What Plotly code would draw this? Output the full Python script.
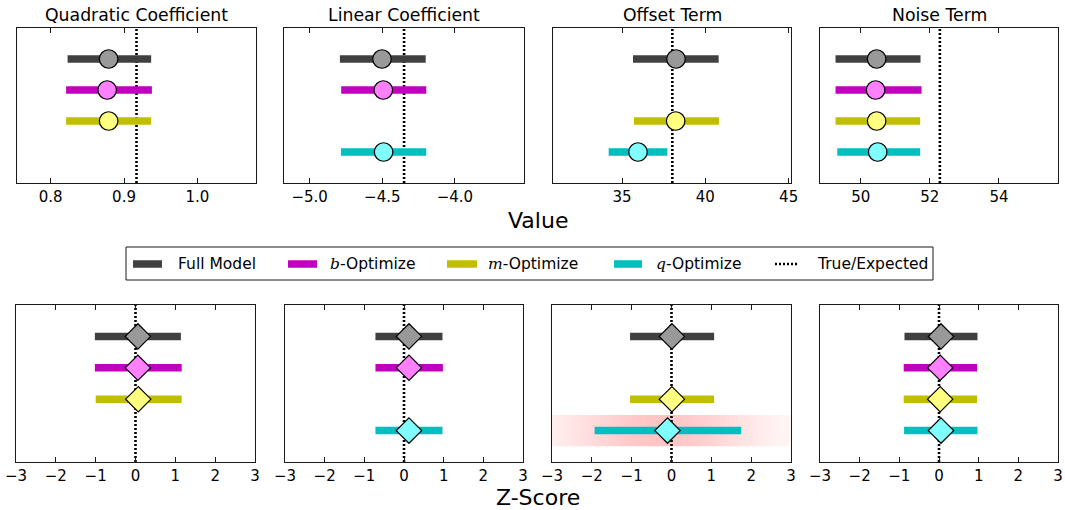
import plotly.graph_objects as go

# ---- data -------------------------------------------------------------
params = ["Quadratic Coefficient", "Linear Coefficient", "Offset Term", "Noise Term"]
models = ["Full Model", "b-Optimize", "m-Optimize", "q-Optimize"]
legend_labels = [
    "Full Model",
    "<span style=\"font-family:DejaVu Serif\"><i>b</i></span>-Optimize",
    "<span style=\"font-family:DejaVu Serif\"><i>m</i></span>-Optimize",
    "<span style=\"font-family:DejaVu Serif\"><i>q</i></span>-Optimize",
    "True/Expected",
]
true_values = [0.917, -4.35, 38.02, 52.29]

# fitted value and interval per model, one entry per parameter (None = not fitted)
full_val = [0.879, -4.502, 38.24, 50.46]
full_lo = [0.823, -4.792, 35.66, 49.27]
full_hi = [0.937, -4.201, 40.80, 51.73]

b_val = [0.877, -4.493, None, 50.43]
b_lo = [0.821, -4.783, None, 49.27]
b_hi = [0.938, -4.197, None, 51.76]

m_val = [0.879, None, 38.22, 50.46]
m_lo = [0.821, None, 35.72, 49.27]
m_hi = [0.937, None, 40.82, 51.72]

q_val = [None, -4.491, 35.96, 50.49]
q_lo = [None, -4.785, 34.20, 49.32]
q_hi = [None, -4.197, 37.72, 51.72]

# z-scores of the fits relative to the expected values
full_z = [0.06, 0.125, 0.01, 0.05]
full_zlo = [-1.02, -0.72, -1.04, -0.87]
full_zhi = [1.14, 0.97, 1.07, 0.97]

b_z = [0.06, 0.125, None, 0.03]
b_zlo = [-1.02, -0.72, None, -0.89]
b_zhi = [1.16, 0.98, None, 0.96]

m_z = [0.07, None, 0.01, 0.03]
m_zlo = [-1.00, None, -1.04, -0.89]
m_zhi = [1.16, None, 1.07, 0.96]

q_z = [None, 0.125, -0.10, 0.05]
q_zlo = [None, -0.72, -1.93, -0.88]
q_zhi = [None, 0.97, 1.75, 0.97]

value_ticks = [[0.8, 0.9, 1.0], [-5.0, -4.5, -4.0], [35, 40, 45], [50, 52, 54]]
value_tickformat = [".1f", ".1f", "d", "d"]
value_ranges = [[0.754, 1.08], [-5.177, -3.524], [30.86, 45.14], [48.82, 55.71]]
z_ticks = [-3, -2, -1, 0, 1, 2, 3]
z_range = [-3, 3]

# ---- styling ----------------------------------------------------------
W, H = 1065, 510
FONT = "DejaVu Sans"
bar_colors = ["#404040", "#bf00bf", "#bfbf00", "#00bfbf"]
fill_colors = ["#999999", "#ff80ff", "#ffff80", "#80ffff"]
rows = [4, 3, 2, 1]

top_px = [(17, 256), (284, 524), (553, 791), (820, 1058)]
bot_px = [(16, 255), (285, 523), (552, 791), (820, 1058)]
top_y = (28, 183)
bot_y = (305, 462)


def xdom(a, b):
    return [a / W, b / W]


def ydom(t, b):
    return [1 - b / H, 1 - t / H]


fig = go.Figure()

vals = [full_val, b_val, m_val, q_val]
los = [full_lo, b_lo, m_lo, q_lo]
his = [full_hi, b_hi, m_hi, q_hi]
zs = [full_z, b_z, m_z, q_z]
zlos = [full_zlo, b_zlo, m_zlo, q_zlo]
zhis = [full_zhi, b_zhi, m_zhi, q_zhi]

axis_common = dict(
    showline=True, linecolor="#1a1a1a", linewidth=1.3, mirror="allticks",
    ticks="inside", ticklen=5, tickwidth=1, tickcolor="#1a1a1a",
    showgrid=False, zeroline=False, automargin=False,
    tickfont=dict(family=FONT, size=15, color="black"),
)
yaxis_common = dict(
    showline=True, linecolor="#1a1a1a", linewidth=1.3, mirror=True,
    ticks="", showticklabels=False, showgrid=False, zeroline=False,
    automargin=False, range=[0, 5], fixedrange=True,
)

layout_axes = {}


def add_panel(idx, center_list, lo_list, hi_list, truth, pcol, symbol, msize, haze=False):
    xa = "x" if idx == 1 else f"x{idx}"
    ya = "y" if idx == 1 else f"y{idx}"
    if haze:
        # soft highlight band behind the q-Optimize offset z-score
        c = center_list[3][pcol] - 0.2
        stops = []
        for k in range(13):
            t = k / 12
            xv = z_range[0] + t * (z_range[1] - z_range[0])
            a = 0.23 * 2.718281828 ** (-((xv - c) ** 2) / (2 * 1.7 ** 2))
            stops.append([t, f"rgba(255,0,0,{a:.3f})"])
        fig.add_trace(go.Scatter(
            x=[z_range[0], z_range[1], z_range[1], z_range[0], z_range[0]],
            y=[rows[3] - 0.5, rows[3] - 0.5, rows[3] + 0.5, rows[3] + 0.5, rows[3] - 0.5],
            mode="lines", fill="toself", line=dict(width=0),
            fillgradient=dict(type="horizontal", colorscale=stops,
                              start=z_range[0], stop=z_range[1]),
            xaxis=xa, yaxis=ya, showlegend=False, hoverinfo="skip",
        ))
    fig.add_trace(go.Scatter(
        x=[truth, truth], y=[0, 5], mode="lines",
        line=dict(color="black", width=2.6, dash="2px,2px"),
        xaxis=xa, yaxis=ya, showlegend=False, hoverinfo="skip",
    ))
    for mi in range(4):
        v = center_list[mi][pcol]
        if v is None:
            continue
        fig.add_trace(go.Scatter(
            x=[lo_list[mi][pcol], hi_list[mi][pcol]], y=[rows[mi], rows[mi]],
            mode="lines", line=dict(color=bar_colors[mi], width=7.5),
            xaxis=xa, yaxis=ya, showlegend=False, hoverinfo="skip",
        ))
    for mi in range(4):
        v = center_list[mi][pcol]
        if v is None:
            continue
        fig.add_trace(go.Scatter(
            x=[v], y=[rows[mi]], mode="markers",
            marker=dict(symbol=symbol, size=msize, color=fill_colors[mi],
                        line=dict(color="black", width=1.2)),
            xaxis=xa, yaxis=ya, showlegend=False, name=models[mi],
        ))


for p in range(4):
    # value panels (top row)
    i = p + 1
    add_panel(i, vals, los, his, true_values[p], p, "circle", 18.5)
    layout_axes["xaxis" if i == 1 else f"xaxis{i}"] = dict(
        axis_common, domain=xdom(*top_px[p]), anchor=("y" if i == 1 else f"y{i}"),
        range=value_ranges[p], tickvals=value_ticks[p], tickformat=value_tickformat[p],
    )
    layout_axes["yaxis" if i == 1 else f"yaxis{i}"] = dict(
        yaxis_common, domain=ydom(*top_y), anchor=("x" if i == 1 else f"x{i}"),
    )
    # z-score panels (bottom row)
    j = p + 5
    add_panel(j, zs, zlos, zhis, 0, p, "diamond", 19.5, haze=(p == 2))
    layout_axes[f"xaxis{j}"] = dict(
        axis_common, domain=xdom(*bot_px[p]), anchor=f"y{j}",
        range=z_range, tickvals=z_ticks,
    )
    layout_axes[f"yaxis{j}"] = dict(
        yaxis_common, domain=ydom(*bot_y), anchor=f"x{j}",
    )

annotations = []
for p in range(4):
    a, b = top_px[p]
    annotations.append(dict(
        text=params[p], x=(a + b) / 2 / W, y=1 - 15 / H, xref="paper", yref="paper",
        showarrow=False, xanchor="center", yanchor="middle",
        font=dict(family=FONT, size=17.3, color="black"),
    ))
annotations.append(dict(
    text="Value", x=538 / W, y=1 - 220 / H, xref="paper", yref="paper",
    showarrow=False, xanchor="center", yanchor="middle",
    font=dict(family=FONT, size=22, color="black"),
))
annotations.append(dict(
    text="Z-Score", x=538 / W, y=1 - 497 / H, xref="paper", yref="paper",
    showarrow=False, xanchor="center", yanchor="middle",
    font=dict(family=FONT, size=22, color="black"),
))

# legend drawn as a framed row of handles and labels
shapes = [dict(
    type="rect", xref="paper", yref="paper",
    x0=126 / W, x1=933 / W, y0=1 - 280 / H, y1=1 - 247 / H,
    line=dict(color="#1a1a1a", width=1), fillcolor="white", layer="below",
)]
handle_x = [(133, 162), (288, 317), (447, 477), (614, 642), (775, 799)]
text_x = [176, 328, 486, 654, 815]
leg_y = 1 - 264 / H
for k in range(5):
    x0, x1 = handle_x[k]
    if k < 4:
        shapes.append(dict(type="line", xref="paper", yref="paper",
                           x0=x0 / W, x1=x1 / W, y0=leg_y, y1=leg_y,
                           line=dict(color=bar_colors[k], width=7.5)))
    else:
        shapes.append(dict(type="line", xref="paper", yref="paper",
                           x0=x0 / W, x1=x1 / W, y0=leg_y, y1=leg_y,
                           line=dict(color="black", width=2.6, dash="2px,2px")))
    annotations.append(dict(
        text=legend_labels[k], x=text_x[k] / W, y=leg_y, xref="paper", yref="paper",
        showarrow=False, xanchor="left", yanchor="middle",
        font=dict(family=FONT, size=15.5, color="black"),
    ))

fig.update_layout(
    template="none",
    width=W, height=H, margin=dict(l=0, r=0, t=0, b=0, pad=0, autoexpand=False),
    paper_bgcolor="white", plot_bgcolor="white",
    font=dict(family=FONT, color="black"),
    annotations=annotations, shapes=shapes, showlegend=False,
    **layout_axes,
)

fig.write_html("out.html")
